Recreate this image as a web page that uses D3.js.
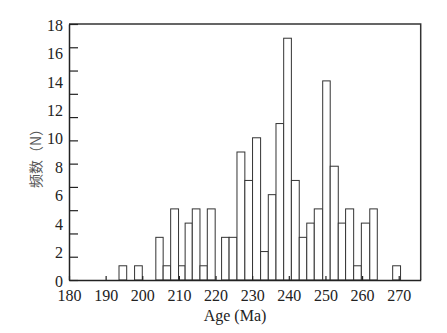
<!doctype html>
<html>
  <head>
    <meta charset="utf-8">
    <script src="https://cdnjs.cloudflare.com/ajax/libs/d3/7.8.5/d3.min.js"></script>
    <style>
      body { margin: 0; background: #fff; }
      svg { display: block; }
    </style>
  </head>
  <body>
    <svg width="447" height="333"></svg>
    <script>
        // bins (Ma) and their counts
        var binStart = [193.65, 197.9, 203.7, 205.7, 207.75, 209.9, 211.7, 213.65, 215.75, 217.75,
                        221.65, 223.7, 225.85, 228.0, 230.1, 232.3, 234.4, 236.5, 238.6, 240.7,
                        242.85, 244.9, 246.95, 249.25, 251.3, 253.5, 255.5, 257.7, 259.8, 262.1, 268.35];
        var binEnd   = [195.75, 200.0, 205.7, 207.75, 209.9, 211.7, 213.65, 215.75, 217.75, 219.9,
                        223.7, 225.85, 228.0, 230.1, 232.3, 234.4, 236.5, 238.6, 240.7, 242.85,
                        244.9, 246.95, 249.25, 251.3, 253.5, 255.5, 257.7, 259.8, 262.1, 264.15, 270.5];
        var counts   = [1, 1, 3, 1, 5, 1, 4, 5, 1, 5,
                        3, 3, 9, 7, 10, 2, 6, 11, 17, 7,
                        3, 4, 5, 14, 8, 4, 5, 1, 4, 5, 1];

        var xTicks = [180, 190, 200, 210, 220, 230, 240, 250, 260, 270];
        var yTicks = [0, 2, 4, 6, 8, 10, 12, 14, 16, 18];
        var xTitle = "Age (Ma)";
        var yTitle = "频数（N）";

        var pLeft = 69, pRight = 420.7, pTop = 24, pBottom = 280;

        var svg = d3.select("svg");
        var x = d3.scaleLinear().domain([180, 276]).range([pLeft, pRight]);
        var y = d3.scaleLinear().domain([0, 18]).range([pBottom, pTop]);
        // tick marks on the y axis are not at the label positions in the original
        var yMarks = d3.scaleLinear().domain([0, 11]).range([pBottom, pTop]);

        var bins = counts.map((c, i) => ({x0: binStart[i], x1: binEnd[i], n: c}));

        svg.selectAll("rect.bar")
            .data(bins)
            .enter()
            .append("rect")
                .attr("class", "bar")
                .attr("x", d => x(d.x0))
                .attr("width", d => x(d.x1) - x(d.x0))
                .attr("y", d => y(d.n))
                .attr("height", d => y(0) - y(d.n))
                .attr("fill", "#fff")
                .attr("stroke", "#333")
                .attr("stroke-width", 1);

        // frame top + right
        svg.append("path")
            .attr("d", "M" + pLeft + "," + pTop + "H" + pRight + "V" + pBottom)
            .attr("fill", "none")
            .attr("stroke", "#333")
            .attr("stroke-width", 1.5);

        // x axis, ticks pointing inward
        svg.append("g")
            .attr("transform", "translate(0," + pBottom + ")")
            .call(d3.axisBottom(x).tickValues(xTicks).tickSizeInner(-4).tickSizeOuter(0).tickPadding(10));

        // y axis marks only
        svg.append("g")
            .attr("transform", "translate(" + pLeft + ",0)")
            .call(d3.axisLeft(yMarks).tickValues(d3.range(0, 12)).tickSizeInner(-9).tickSizeOuter(0).tickFormat(""));

        // y labels
        var gyl = svg.append("g")
            .attr("transform", "translate(" + pLeft + ",1)")
            .call(d3.axisLeft(y).tickValues(yTicks).tickSize(0).tickPadding(6));
        gyl.select(".domain").remove();

        svg.selectAll(".domain").attr("stroke", "#222").attr("stroke-width", 1.5);
        svg.selectAll(".tick line").attr("stroke", "#222").attr("stroke-width", 1.2);
        svg.selectAll(".tick text")
            .attr("fill", "#222")
            .style("font-family", "'Liberation Serif', 'Times New Roman', serif")
            .style("font-size", "16px");

        svg.append("text")
            .attr("x", 235)
            .attr("y", 321)
            .attr("text-anchor", "middle")
            .attr("fill", "#222")
            .style("font-family", "'Liberation Serif', 'Times New Roman', serif")
            .style("font-size", "16px")
            .text(xTitle);

        svg.append("text")
            .attr("transform", "translate(41,155) rotate(-90)")
            .attr("text-anchor", "middle")
            .attr("fill", "#555")
            .style("font-family", "'Noto Sans CJK SC', sans-serif")
            .style("font-size", "14px")
            .text(yTitle);
    </script>
  </body>
</html>
